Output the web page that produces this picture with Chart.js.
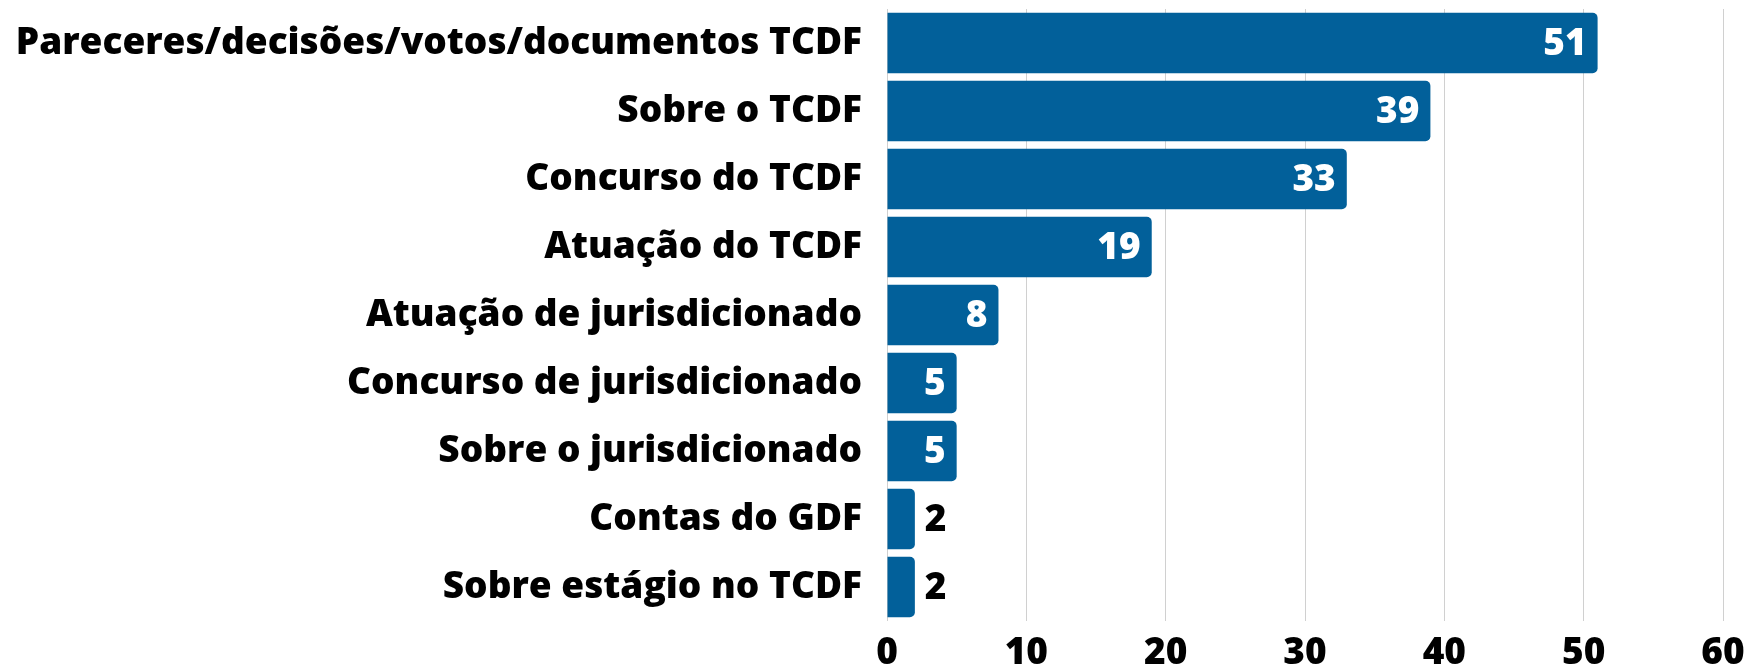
<!DOCTYPE html>
<html>
<head>
<meta charset="utf-8">
<script src="https://cdn.jsdelivr.net/npm/chart.js@4.4.1/dist/chart.umd.min.js"></script>
<style>
html,body{margin:0;padding:0;background:#fff;}
#wrap{width:1749px;height:666px;position:relative;}
</style>
</head>
<body>
<div id="wrap"><canvas id="c" width="1749" height="666"></canvas></div>
<script>
const categories = [
  "Pareceres/decisões/votos/documentos TCDF",
  "Sobre o TCDF",
  "Concurso do TCDF",
  "Atuação do TCDF",
  "Atuação de jurisdicionado",
  "Concurso de jurisdicionado",
  "Sobre o jurisdicionado",
  "Contas do GDF",
  "Sobre estágio no TCDF"
];
const values = [51, 39, 33, 19, 8, 5, 5, 2, 2];
const xTicks = [0, 10, 20, 30, 40, 50, 60];

const FONT = "'Open Sans', sans-serif";
const BAR = "#02609A";

const valueLabels = {
  id: 'valueLabels',
  afterDatasetsDraw(chart) {
    const ctx = chart.ctx;
    const meta = chart.getDatasetMeta(0);
    ctx.save();
    ctx.font = "800 37px " + FONT;
    ctx.textBaseline = 'middle';
    meta.data.forEach((bar, i) => {
      const txt = String(values[i]);
      const w = ctx.measureText(txt).width;
      const barW = bar.x - bar.base;
      if (w + 20 < barW) {
        ctx.fillStyle = '#ffffff';
        ctx.textAlign = 'right';
        ctx.fillText(txt, bar.x - 11, bar.y + 1);
      } else {
        ctx.fillStyle = '#000000';
        ctx.textAlign = 'left';
        ctx.fillText(txt, bar.x + 10, bar.y + 1);
      }
    });
    ctx.restore();
  }
};

new Chart(document.getElementById('c'), {
  type: 'bar',
  data: {
    labels: categories,
    datasets: [{
      data: values,
      backgroundColor: BAR,
      borderWidth: 0,
      borderRadius: 5,
      borderSkipped: 'start',
      barPercentage: 0.89,
      categoryPercentage: 1.0
    }]
  },
  options: {
    indexAxis: 'y',
    responsive: false,
    animation: false,
    layout: { padding: { top: 9, right: 26, left: 0, bottom: 0 } },
    plugins: { legend: { display: false }, tooltip: { enabled: false } },
    scales: {
      x: {
        min: 0, max: 60,
        afterBuildTicks(scale) { scale.ticks = xTicks.map(v => ({ value: v })); },
        afterFit(scale) { scale.height = 45; scale.paddingLeft = 0; scale.paddingRight = 0; },
        grid: { color: '#d0d0d0', lineWidth: 1, drawTicks: false },
        border: { display: false },
        ticks: { color: '#000', padding: 10, font: { family: FONT, weight: '800', size: 37 } }
      },
      y: {
        afterFit(scale) { scale.width = 887; scale.paddingTop = 0; scale.paddingBottom = 0; },
        grid: { display: false, drawTicks: false },
        border: { display: false },
        ticks: { color: '#000', padding: 25, font: { family: FONT, weight: '800', size: 37 } }
      }
    }
  },
  plugins: [valueLabels]
});
</script>
</body>
</html>
